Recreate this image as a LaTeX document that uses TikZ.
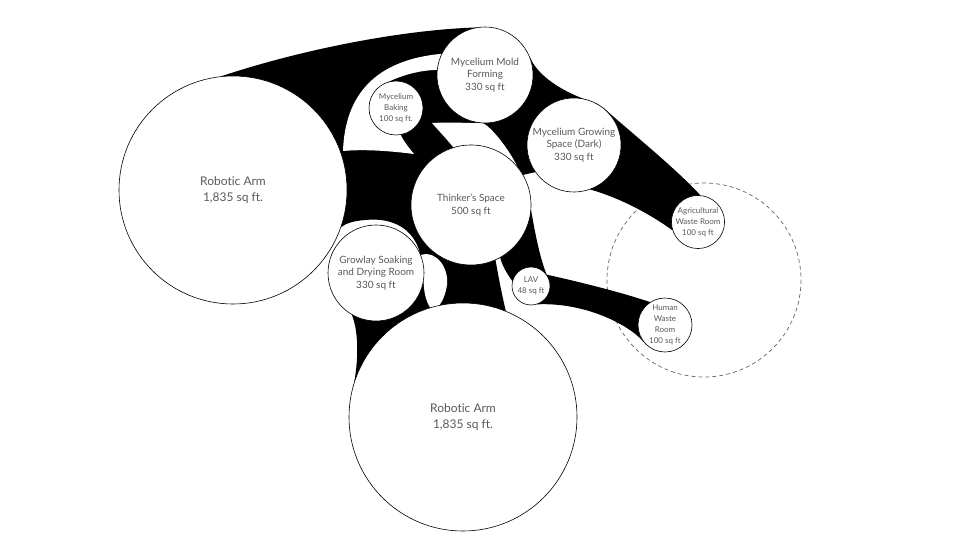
\documentclass[tikz,border=0pt]{standalone}
\usepackage{fontspec}
\setmainfont{Lato}[Ligatures = NoCommon]
\usetikzlibrary{backgrounds}

\begin{document}
\begin{tikzpicture}[
      x = 1pt, y = -1pt,
      room/.style = {
        circle, draw = black, line width = .6pt,
        fill = white, inner sep = 0pt,
        align = center, text = black!65
      },
      labelL/.style = { font = \fontsize{12}{15.5}\selectfont },
      labelM/.style = { font = \fontsize{10}{12.5}\selectfont },
      labelS/.style = { font = \fontsize{8}{10.8}\selectfont },
      zone/.style = {
        draw = black!60, line width = .7pt,
        dash pattern = on 4pt off 3pt
      },
    ]

    \useasboundingbox (0,0) rectangle (960,540);

    % rooms
    \node[room, labelL, minimum size = 228pt] (armL) at (233,190) {Robotic Arm\\1,835 sq ft.};
    \node[room, labelL, minimum size = 228pt] (armB) at (463,417) {Robotic Arm\\1,835 sq ft.};
    \node[room, labelM, minimum size = 120pt] (thinker) at (471,205) {Thinker’s Space\\500 sq ft};
    \node[room, labelM, minimum size = 96pt] (mold) at (485,75) {Mycelium Mold\\Forming\\330 sq ft};
    \node[room, labelS, minimum size = 54pt] (baking) at (396,108) {Mycelium\\Baking\\100 sq ft.};
    \node[room, labelM, minimum size = 94pt] (growing) at (574,145) {Mycelium Growing\\Space (Dark)\\330 sq ft};
    \node[room, labelM, minimum size = 96pt] (growlay) at (376,273) {Growlay Soaking\\and Drying Room\\330 sq ft};
    \node[room, labelS, minimum size = 38pt] (lav) at (531,286) {LAV\\48 sq ft};
    \node[room, labelS, minimum size = 52pt] (agri) at (698,222) {Agricultural\\Waste Room\\100 sq ft};
    \node[room, labelS, minimum size = 54pt] (human) at (665,325) {Human\\Waste\\Room\\100 sq ft};

    \begin{pgfonlayer}{background}
      \draw[zone] (704,280) circle (97);

      % links between the rooms
      \fill[black]
        (armL.center) -- (armL.96)
        .. controls (300,50) and (400,30) .. (mold.100)
        -- (mold.center) -- (mold.21)
        .. controls (540,80) and (570,95) .. (growing.62)
        -- (growing.50)
        .. controls (640,140) and (675,168) .. (agri.85)
        -- (agri.center) -- (agri.198)
        .. controls (650,214) and (620,198) .. (growing.290)
        -- (growing.center) -- (growing.215) -- (thinker.30)
        -- (thinker.center) -- (thinker.355)
        .. controls (535,232) and (539,255) .. (lav.36)
        .. controls (580,282) and (620,292) .. (human.123)
        -- (human.center) -- (human.220)
        .. controls (630,325) and (585,302) .. (lav.288)
        -- (lav.center) -- (lav.165)
        .. controls (507,274) and (502,265) .. (thinker.299)
        -- (thinker.294)
        .. controls (499,280) and (502,295) .. (armB.68)
        -- (armB.center) -- (armB.162)
        .. controls (359,355) and (358,330) .. (growlay.240)
        -- (growlay.center) -- (growlay.25)
        .. controls (414,230) and (394,217) .. (365,220)
        .. controls (352,221) and (345,224) .. (armL.341)
        -- cycle;

      % openings
      \fill[white] (343,151)
        .. controls (345,95) and (375,60) .. (mold.154)
        -- (mold.center) -- (mold.174)
        .. controls (420,70) and (395,76) .. (baking.135)
        -- (baking.center) -- (baking.280)
        .. controls (404,142) and (410,149) .. (414,154)
        .. controls (390,151) and (365,149) .. (343,151) -- cycle;
      \fill[white] (432,123)
        .. controls (450,122) and (465,123) .. (mold.268)
        .. controls (492,128) and (508,148) .. (thinker.40)
        -- (thinker.center) -- (thinker.107)
        .. controls (444,136) and (437,129) .. (432,123) -- cycle;
      \fill[white] (growlay.22)
        .. controls (438,250) and (449,270) .. (447,285)
        .. controls (445,298) and (440,307) .. (433,311)
        .. controls (427,305) and (424,295) .. (growlay.350)
        -- (growlay.center) -- cycle;
    \end{pgfonlayer}
  \end{tikzpicture}
\end{document}
